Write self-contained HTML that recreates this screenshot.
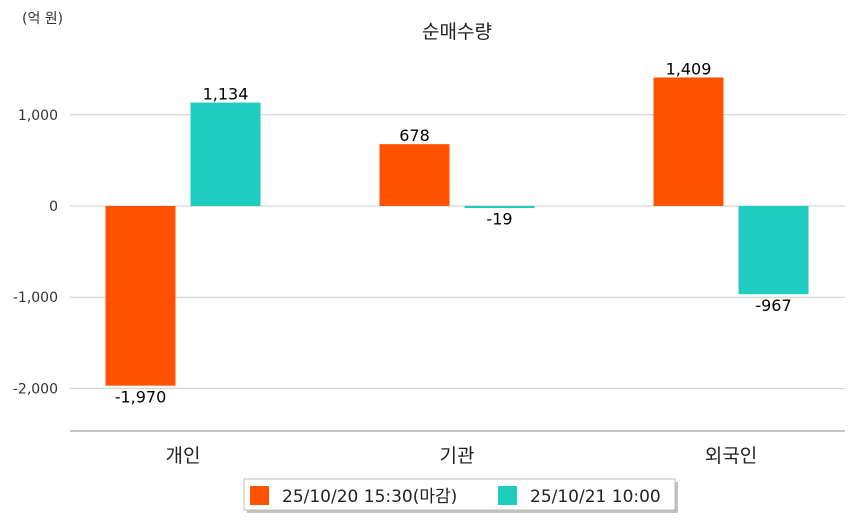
<!DOCTYPE html>
<html><head><meta charset="utf-8">
<style>
body{margin:0;background:#fff;}
svg text{font-family:"DejaVu Sans","Noto Sans CJK KR",sans-serif;}
</style></head>
<body>
<svg id="chart" width="854" height="520" xmlns="http://www.w3.org/2000/svg">
<text x="22" y="23" font-size="14" fill="#333">(억 원)</text>
<text x="457" y="38" font-size="19" fill="#222" text-anchor="middle">순매수량</text>
<g id="grid"></g>
<g id="bars"></g>
<line x1="70" y1="431" x2="845" y2="431" stroke="#888" stroke-width="1"/>
<g>
<rect x="247" y="482" width="431" height="31" fill="#999" opacity="0.6"/>
<rect x="244" y="479" width="431" height="31" fill="#fff" stroke="#bbb"/>
<rect x="250" y="486" width="19" height="19" fill="#ff5200"/>
<text x="282" y="502" font-size="17" fill="#222">25/10/20 15:30(마감)</text>
<rect x="498" y="486" width="19" height="19" fill="#1ecdbd"/>
<text x="530" y="502" font-size="17" fill="#222">25/10/21 10:00</text>
</g>
</svg>
<script>
const categories = ["개인","기관","외국인"];
const series1020 = [-1970, 678, 1409];
const series1021 = [1134, -19, -967];
const tickValues = [1000, 0, -1000, -2000];
const tickLabels = ["1,000","0","-1,000","-2,000"];

const NS = "http://www.w3.org/2000/svg";
const y0 = 206, pxPer = 91.2/1000;
const yScale = v => y0 - v*pxPer;
const xCenter = i => 183 + i*274;
const fmt = v => v.toLocaleString("en-US");
function mk(tag, attrs, parent){const e=document.createElementNS(NS,tag);for(const k in attrs)e.setAttribute(k,attrs[k]);parent.appendChild(e);return e;}
const grid=document.getElementById("grid"), bars=document.getElementById("bars");
tickValues.forEach((v,i)=>{
  const l=mk("line",{x1:70,x2:845,y1:yScale(v),y2:yScale(v),stroke:"#ccc","stroke-width":1},grid);
  
  
  const t=mk("text",{x:58,y:yScale(v)+5,"font-size":14,fill:"#333","text-anchor":"end"},grid);
  t.textContent=tickLabels[i];
  
  
});
categories.forEach((c,i)=>{
  const t=mk("text",{x:xCenter(i),y:462,"font-size":19,fill:"#222","text-anchor":"middle"},bars);
  t.textContent=c;
  
  
  [[series1020,"#ff5200",-77.5],[series1021,"#1ecdbd",7.5]].forEach(([s,col,off])=>{
    const v=s[i], x=xCenter(i)+off, y=Math.min(yScale(v),y0), h=Math.max(Math.abs(yScale(v)-y0),2);
    const r=mk("rect",{x:x,y:y,width:70,height:h,fill:col},bars);
    
    
    const ly = v>=0 ? yScale(v)-3 : yScale(v)+17;
    const lt=mk("text",{x:x+35,y:ly,"font-size":16,fill:"#000","text-anchor":"middle"},bars);
    lt.textContent=fmt(v);
    
    
  });
});
</script>
</body></html>
